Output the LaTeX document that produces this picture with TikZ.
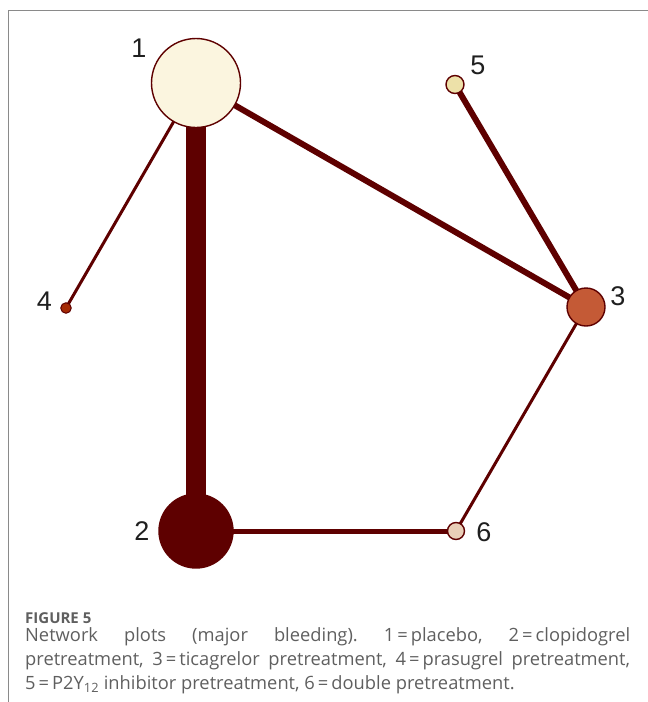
\documentclass[tikz,border=0pt]{standalone}
\usepackage{fontspec}
\setmainfont{Liberation Sans}
\newfontfamily\capfont{Open Sans}
\usetikzlibrary{backgrounds}
\definecolor{edgered}{HTML}{5E0000}
\definecolor{fillone}{HTML}{FBF5DF}
\definecolor{fillthree}{HTML}{C45A36}
\definecolor{fillfour}{HTML}{A52A05}
\definecolor{fillfive}{HTML}{EDE1A9}
\definecolor{fillsix}{HTML}{E9CFB8}
\definecolor{framegray}{HTML}{8A8A8A}
\definecolor{capgray}{HTML}{5F5F5F}
\tikzset{
  vert/.style={circle, draw=edgered, line width=1.4pt, inner sep=0pt, minimum size=#1},
  lab/.style={font=\fontsize{27}{27}\selectfont, text=black!88, inner sep=0pt},
  link/.style={draw=edgered, line width=#1}
}
\frenchspacing
\begin{document}
\begin{tikzpicture}[x=1pt,y=-1pt]
\useasboundingbox (0,0) rectangle (648,702);
\draw[framegray, line width=1pt] (8,702) -- (8,10.5) -- (648,10.5);
% nodes
\node[vert=89, fill=fillone] (n1) at (196,83) {};
\node[vert=74, fill=edgered] (n2) at (196,531) {};
\node[vert=38, fill=fillthree] (n3) at (586,307) {};
\node[vert=10.5, fill=fillfour, line width=1pt] (n4) at (66,308) {};
\node[vert=18, fill=fillfive] (n5) at (455,84.5) {};
\node[vert=17, fill=fillsix] (n6) at (456,531) {};
% labels
\node[lab] (l1) at (139,48) {1};
\node[lab] (l2) at (142,531) {2};
\node[lab] (l3) at (618,296) {3};
\node[lab] (l4) at (44.5,301) {4};
\node[lab] (l5) at (478,65.5) {5};
\node[lab] (l6) at (484,532) {6};
% edges
\begin{pgfonlayer}{background}
\draw[link=19.5] (n1.center) -- (n2.center);
\draw[link=6] (n1.center) -- (n3.center);
\draw[link=6] (n5.center) -- (n3.center);
\draw[link=3] (n1.center) -- (n4.center);
\draw[link=3] (n3.center) -- (n6.center);
\draw[link=5] (n2.center) -- (n6.center);
\end{pgfonlayer}
% caption
\node[anchor=west, inner sep=0pt, text=capgray, font=\capfont\bfseries\fontsize{15}{15}\selectfont] (fig) at (25,618) {FIGURE 5};
\node[anchor=north west, inner sep=0pt, text width=605pt, align=justify, text=capgray, font=\capfont\fontsize{18.3}{24}\selectfont] (cap) at (25,627) {Network plots (major bleeding). 1\,=\,placebo, 2\,=\,clopidogrel\linebreak pretreatment, 3\,=\,ticagrelor pretreatment, 4\,=\,prasugrel pretreatment,\linebreak 5\,=\,P2Y\textsubscript{12} inhibitor pretreatment, 6\,=\,double pretreatment.};
\end{tikzpicture}
\end{document}
